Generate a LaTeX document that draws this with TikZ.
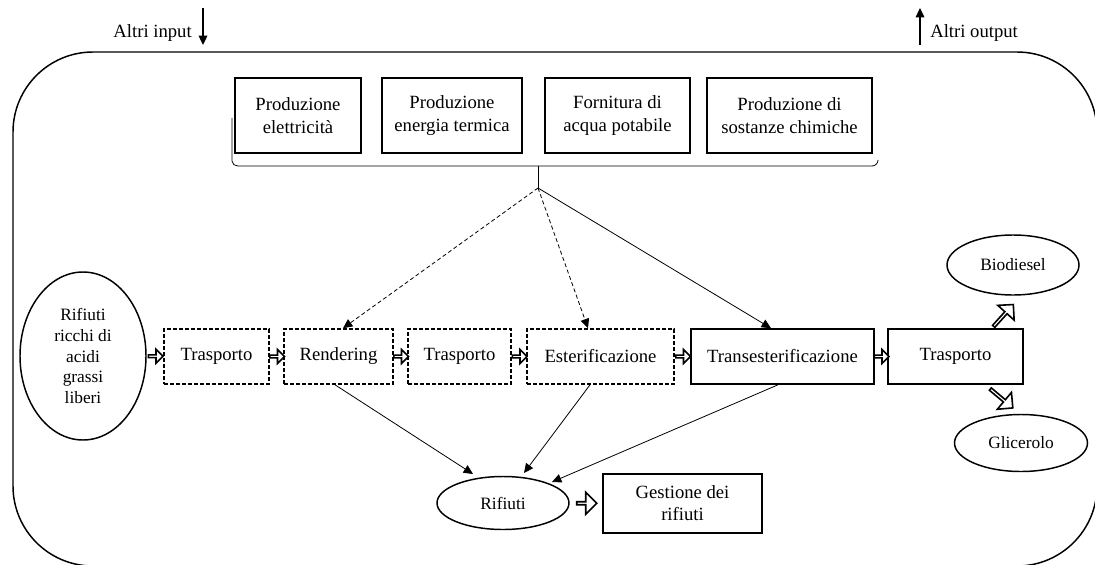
\documentclass[tikz,border=0pt]{standalone}
\usepackage{fontspec}
\setmainfont{Liberation Serif}
\usetikzlibrary{shapes.geometric,shapes.arrows,arrows.meta,calc}
\begin{document}
\begin{tikzpicture}[x=0.75pt,y=-0.75pt,
  txt/.style={font=\fontsize{14}{16}\selectfont, align=center, inner sep=0pt},
  topbox/.style={draw, line width=1.2pt, txt, font=\fontsize{14}{17.5}\selectfont, minimum height=56.25pt},
  rowbox/.style={draw, line width=1.2pt, txt, minimum height=41.25pt},
  dbox/.style={rowbox, dash pattern=on 3pt off 1.5pt},
  oval/.style={draw, ellipse, line width=1.1pt, txt, inner sep=0pt},
  conn/.style={line width=0.6pt, -{Triangle[length=7pt,width=6.5pt]}},
  dconn/.style={conn, dash pattern=on 3pt off 2pt},
  blk/.style={draw, fill=white, single arrow, line width=1.2pt, inner sep=0pt,
    minimum height=11pt, minimum width=10.5pt, single arrow head extend=2.4pt},
  bigblk/.style={draw, fill=white, single arrow, line width=1.2pt, inner sep=0pt,
    minimum height=22pt, minimum width=16.5pt, single arrow head extend=3.8pt}
]
\useasboundingbox (0,0) rectangle (1095,564);
\begin{scope}
  \clip (0,0) rectangle (1095,564);
  \draw[line width=1.1pt, rounded corners=60pt] (13,52) rectangle (1097,566);
\end{scope}

% top labels
\node[txt, anchor=east] (inp) at (192,33) {Altri input};
\coordinate (inA) at (203,8);
\coordinate (inB) at (203,45);
\draw[line width=0.9pt, -{Triangle[length=7pt,width=6.5pt]}] (inA) -- (inB);
\node[txt, anchor=west] (outp) at (930,33) {Altri output};
\coordinate (outA) at (920,45);
\coordinate (outB) at (920,8);
\draw[line width=0.9pt, -{Triangle[length=7pt,width=6.5pt]}] (outA) -- (outB);

% top boxes
\node[topbox, minimum width=94.5pt] (b1) at (298,115.5) {Produzione\\elettricità};
\node[topbox, minimum width=105pt] (b2) at (452,115.5) {Produzione\\energia termica};
\node[topbox, minimum width=108.75pt] (b3) at (617.5,115.5) {Fornitura di\\acqua potabile};
\node[topbox, minimum width=123.75pt] (b4) at (789.5,115.5) {Produzione di\\sostanze chimiche};

% bracket
\coordinate (brL) at (232,118);
\coordinate (brR) at (878,160);
\coordinate (brC) at (538,166);
\coordinate (hub) at (538,188);
\draw[line width=0.6pt] (brL) -- (232,161) to[out=-90,in=180] (238,166) -- (872,166) to[out=0,in=-90] (brR);
\draw[line width=0.6pt] (brC) -- (hub);

% main row
\node[oval, minimum width=94.5pt, minimum height=126pt, font=\fontsize{13}{15.5}\selectfont] (src) at (83,356)
  {Rifiuti\\ricchi di\\acidi\\grassi\\liberi};
\node[dbox, minimum width=78.75pt] (t1) at (216.5,356.5) {Trasporto};
\node[dbox, minimum width=81.75pt] (rend) at (338.5,356.5) {Rendering};
\node[dbox, minimum width=77.25pt] (t2) at (459.5,356.5) {Trasporto};
\node[dbox, minimum width=110.25pt] (est) at (600.5,356.5) {Esterificazione};
\node[rowbox, minimum width=137.25pt] (trans) at (782.5,356.5) {Transesterificazione};
\node[rowbox, minimum width=101.25pt] (t3) at (955.5,356.5) {Trasporto};

\node[blk] (a1) at ($(src.east)!0.5!(t1.west)$) {};
\node[blk] (a2) at ($(t1.east)!0.5!(rend.west)$) {};
\node[blk] (a3) at ($(rend.east)!0.5!(t2.west)$) {};
\node[blk] (a4) at ($(t2.east)!0.5!(est.west)$) {};
\node[blk] (a5) at ($(est.east)!0.5!(trans.west)$) {};
\node[blk] (a6) at ($(trans.east)!0.5!(t3.west)$) {};

% products
\node[oval, minimum width=99pt, minimum height=45pt, font=\fontsize{13}{15}\selectfont] (bio) at (1013,265) {Biodiesel};
\node[oval, minimum width=99.75pt, minimum height=42.75pt, font=\fontsize{13}{15}\selectfont] (gli) at (1021,443) {Glicerolo};
\node[bigblk, rotate=48] (a7) at (1003,316) {};
\node[bigblk, rotate=-40] (a8) at (1001,398) {};

% waste
\node[oval, minimum width=99pt, minimum height=39.75pt, font=\fontsize{13}{15}\selectfont] (rif) at (503,503) {Rifiuti};
\node[draw, line width=1.2pt, txt, font=\fontsize{14}{16.5}\selectfont, minimum width=119.25pt, minimum height=44.25pt] (gest) at (682.5,503.5) {Gestione dei\\rifiuti};
\node[draw, fill=white, single arrow, line width=1.2pt, inner sep=0pt,
  minimum height=15pt, minimum width=16.5pt, single arrow head extend=3.75pt] (a9) at ($(rif.east)!0.5!(gest.west)$) {};

% connectors from utilities
\draw[dconn] (hub) -- ($(rend.north)+(4.5,0)$);
\draw[dconn] (hub) -- ($(est.north)+(-12.5,0)$);
\draw[conn] (hub) -- ($(trans.north)+(-11.5,0)$);

% connectors to waste
\draw[conn] ($(rend.south)+(-3.5,0)$) -- ($(rif.center)+(-30,-29)$);
\draw[conn] ($(est.south)+(-10.5,0)$) -- ($(rif.center)+(21,-30)$);
\draw[conn] ($(trans.south)+(-4.5,0)$) -- ($(rif.center)+(49,-21)$);
\end{tikzpicture}
\end{document}
